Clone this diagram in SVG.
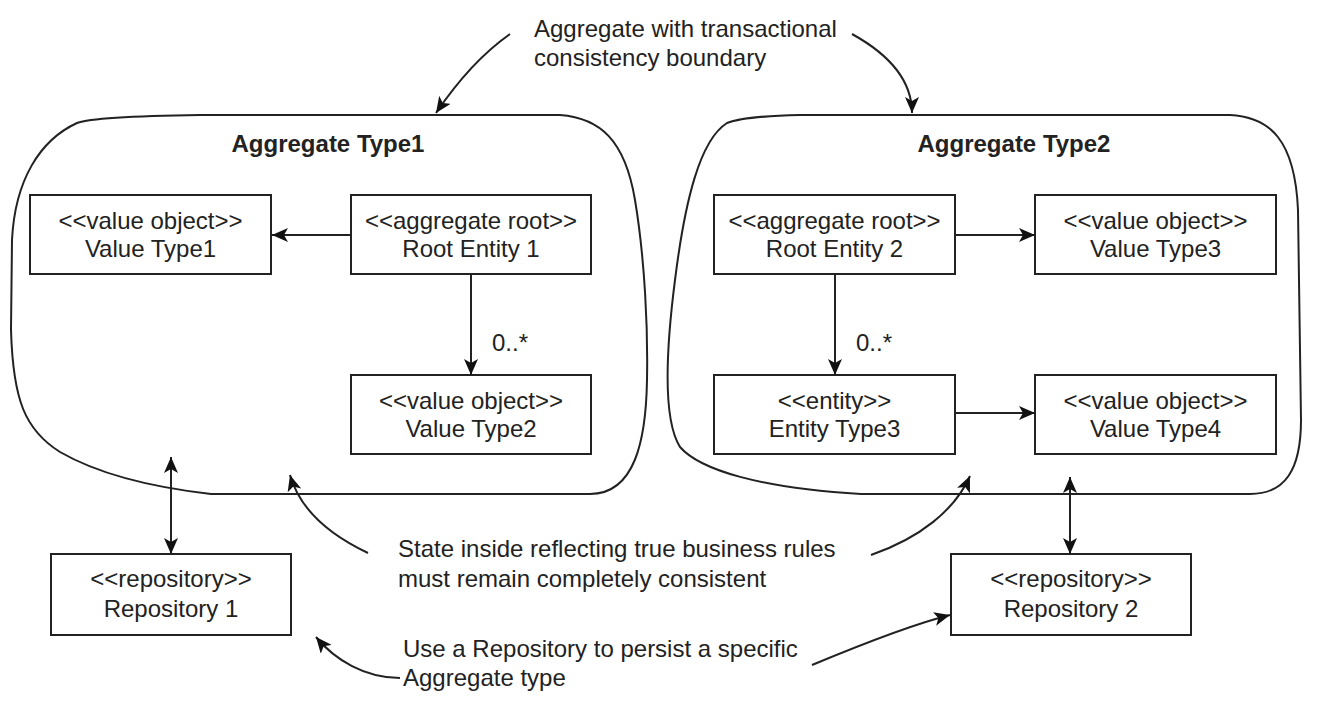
<svg xmlns="http://www.w3.org/2000/svg" width="1334" height="712" viewBox="0 0 1334 712">
<defs>
<style>
.box{fill:#fff;stroke:#222;stroke-width:2}
.agg{fill:none;stroke:#222;stroke-width:2}
.t{font-family:"Liberation Sans",Arial,Helvetica,sans-serif;font-size:24px;fill:#222}
.c{text-anchor:middle}
.b{font-weight:bold}
.ln{fill:none;stroke:#222;stroke-width:2}
.ar{marker-end:url(#ah)}
.dbl{marker-start:url(#ah);marker-end:url(#ah)}
</style>
<marker id="ah" viewBox="0 0 16 14" refX="16" refY="7" markerWidth="16" markerHeight="14" markerUnits="userSpaceOnUse" orient="auto-start-reverse">
<path d="M0,0 L16,7 L0,14 L4,7 Z" fill="#111"/>
</marker>
</defs>
<rect width="1334" height="712" fill="#fff"/>

<g id="aggregate1">
<path class="agg" d="M77,123 C90,118 130,116 200,115 L560,115 C600,118 625,140 635,200 C645,260 648,330 647,380 C646,440 635,494 590,494 L211,494 C150,487 100,475 60,452 C25,430 13,400 11,330 L12,240 C15,180 40,140 77,123 Z"/>
<text class="t c b" x="328" y="152">Aggregate Type1</text>
</g>
<g id="aggregate2">
<path class="agg" d="M727,123 C740,118 760,116 800,115 L1230,115 C1270,117 1295,140 1298,210 L1301,420 C1301,470 1285,494 1250,494 L861,494 C760,488 700,470 680,447 C663,420 666,350 675,280 C685,200 700,140 727,123 Z"/>
<text class="t c b" x="1014" y="152">Aggregate Type2</text>
</g>

<g id="vt1"><rect class="box" x="30" y="195" width="241" height="79"/>
<text class="t c" x="150.5" y="229">&lt;&lt;value object&gt;&gt;</text><text class="t c" x="150.5" y="257">Value Type1</text></g>
<g id="re1"><rect class="box" x="351" y="195" width="240" height="79"/>
<text class="t c" x="471" y="229">&lt;&lt;aggregate root&gt;&gt;</text><text class="t c" x="471" y="257">Root Entity 1</text></g>
<g id="vt2"><rect class="box" x="351" y="375" width="240" height="79"/>
<text class="t c" x="471" y="409">&lt;&lt;value object&gt;&gt;</text><text class="t c" x="471" y="437">Value Type2</text></g>
<g id="re2"><rect class="box" x="714" y="195" width="241" height="79"/>
<text class="t c" x="834.5" y="229">&lt;&lt;aggregate root&gt;&gt;</text><text class="t c" x="834.5" y="257">Root Entity 2</text></g>
<g id="vt3"><rect class="box" x="1035" y="195" width="241" height="79"/>
<text class="t c" x="1155.5" y="229">&lt;&lt;value object&gt;&gt;</text><text class="t c" x="1155.5" y="257">Value Type3</text></g>
<g id="et3"><rect class="box" x="714" y="375" width="241" height="79"/>
<text class="t c" x="834.5" y="409">&lt;&lt;entity&gt;&gt;</text><text class="t c" x="834.5" y="437">Entity Type3</text></g>
<g id="vt4"><rect class="box" x="1035" y="375" width="241" height="79"/>
<text class="t c" x="1155.5" y="409">&lt;&lt;value object&gt;&gt;</text><text class="t c" x="1155.5" y="437">Value Type4</text></g>
<g id="repo1"><rect class="box" x="51" y="554" width="240" height="81"/>
<text class="t c" x="171" y="587">&lt;&lt;repository&gt;&gt;</text><text class="t c" x="171" y="617">Repository 1</text></g>
<g id="repo2"><rect class="box" x="951" y="554" width="240" height="81"/>
<text class="t c" x="1071" y="587">&lt;&lt;repository&gt;&gt;</text><text class="t c" x="1071" y="617">Repository 2</text></g>

<g id="notes">
<text class="t" x="534" y="37">Aggregate with transactional</text>
<text class="t" x="534" y="66">consistency boundary</text>
<text class="t" x="398" y="557">State inside reflecting true business rules</text>
<text class="t" x="398" y="587">must remain completely consistent</text>
<text class="t" x="403" y="657">Use a Repository to persist a specific</text>
<text class="t" x="403" y="686">Aggregate type</text>
</g>

<g id="connectors">
<path class="ln ar" d="M351,235 L272,235"/>
<path class="ln ar" d="M471,274 L471,375"/>
<text class="t" x="492" y="351">0..*</text>
<path class="ln ar" d="M955,235 L1035,235"/>
<path class="ln ar" d="M835,274 L835,375"/>
<text class="t" x="856" y="351">0..*</text>
<path class="ln ar" d="M955,413 L1035,413"/>
<path class="ln dbl" d="M171,457 L171,554"/>
<path class="ln dbl" d="M1070,477 L1070,554"/>
<path class="ln ar" d="M510,34 C480,55 455,85 436,113"/>
<path class="ln ar" d="M852,34 C890,55 912,80 912,113"/>
<path class="ln ar" d="M368,553 C330,535 300,510 290,475"/>
<path class="ln ar" d="M871,555 C920,538 955,510 970,476"/>
<path class="ln ar" d="M400,678 C365,678 335,660 316,637"/>
<path class="ln ar" d="M812,665 C860,645 910,625 950,615"/>
</g>
</svg>
